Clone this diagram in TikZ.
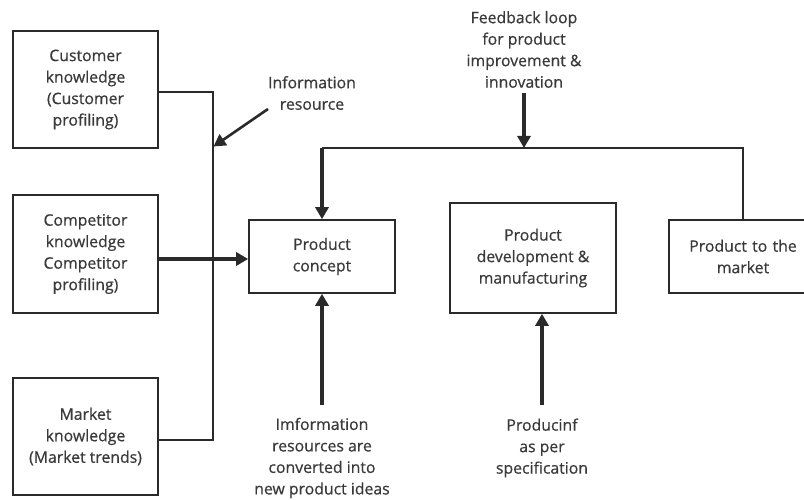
\documentclass[tikz,border=0pt]{standalone}
\usepackage{fontspec}
\setmainfont[FakeBold=0.6]{Open Sans}
\usetikzlibrary{arrows.meta}
\definecolor{ln}{HTML}{2A2A2A}
\definecolor{tx}{HTML}{3A3A3A}
\begin{document}
\begin{tikzpicture}[x=1pt,y=-1pt,
  box/.style={draw=ln,line width=1.6pt,align=center,text=tx,font=\fontsize{15.8}{21.5}\selectfont,inner sep=0pt,fill=white},
  lbl/.style={align=center,text=tx,font=\fontsize{15.8}{21.5}\selectfont,inner sep=0pt},
  thinln/.style={draw=ln,line width=1.5pt},
  bigarrow/.style={draw=ln,line width=3.2pt,-{Triangle[width=13pt,length=12pt]}}]
\useasboundingbox (0,0) rectangle (804,500);
\clip (0,0) rectangle (804,500);
\fill[white] (0,0) rectangle (804,500);
% boxes
\node[box,minimum width=145pt,minimum height=117pt] (cust) at (85.5,89.5) {Customer\\knowledge\\(Customer\\profiling)};
\node[box,minimum width=145pt,minimum height=118pt] (comp) at (85.5,254) {Competitor\\knowledge\\Competitor\\profiling)};
\node[box,minimum width=145pt,minimum height=117pt] (mkt) at (85.5,436.5) {Market\\knowledge\\(Market trends)};
\node[box,minimum width=146pt,minimum height=73pt] (concept) at (322,256.5) {Product\\concept};
\node[box,minimum width=166pt,minimum height=110pt] (dev) at (533,258) {Product\\development \&\\manufacturing};
\node[box,minimum width=148pt,minimum height=73pt,text width=140pt] (market) at (743,256.5) {Product to the\\market};
% labels
\node[lbl] (info) at (312,93) {Information\\resource};
\node[lbl] (fb) at (524,49.5) {Feedback loop\\for product\\improvement \&\\innovation};
\node[lbl] (imf) at (322,458) {Imformation\\resources are\\converted into\\new product ideas};
\node[lbl] (prod) at (542,448) {Producinf\\as per\\specification};
% coordinates
\coordinate (bustop) at (213,92);
\coordinate (busbot) at (213,440);
\coordinate (custout) at (158,92);
\coordinate (mktout) at (158,440);
\coordinate (infoA) at (268,109);
\coordinate (infoT) at (213.5,146.5);
\coordinate (fbcorner) at (322,148);
\coordinate (fbhit) at (524,148);
\coordinate (fbtop) at (524,93);
\coordinate (imftop) at (322,405);
\coordinate (prodtop) at (542,405);
% connectors
\draw[thinln] (custout) -- (bustop) -- (busbot) -- (mktout);
\draw[bigarrow,line width=2.6pt] (infoA) -- (infoT);
\draw[bigarrow] (comp.east |- 0,259) -- (concept.west |- 0,259);
\draw[thinln] (market.north) |- (fbcorner);
\draw[bigarrow] (fbcorner) -- (concept.north);
\draw[bigarrow] (fbtop) -- (fbhit);
\draw[bigarrow] (imftop) -- (concept.south);
\draw[bigarrow] (prodtop) -- (dev.south -| prodtop);
\end{tikzpicture}
\end{document}
